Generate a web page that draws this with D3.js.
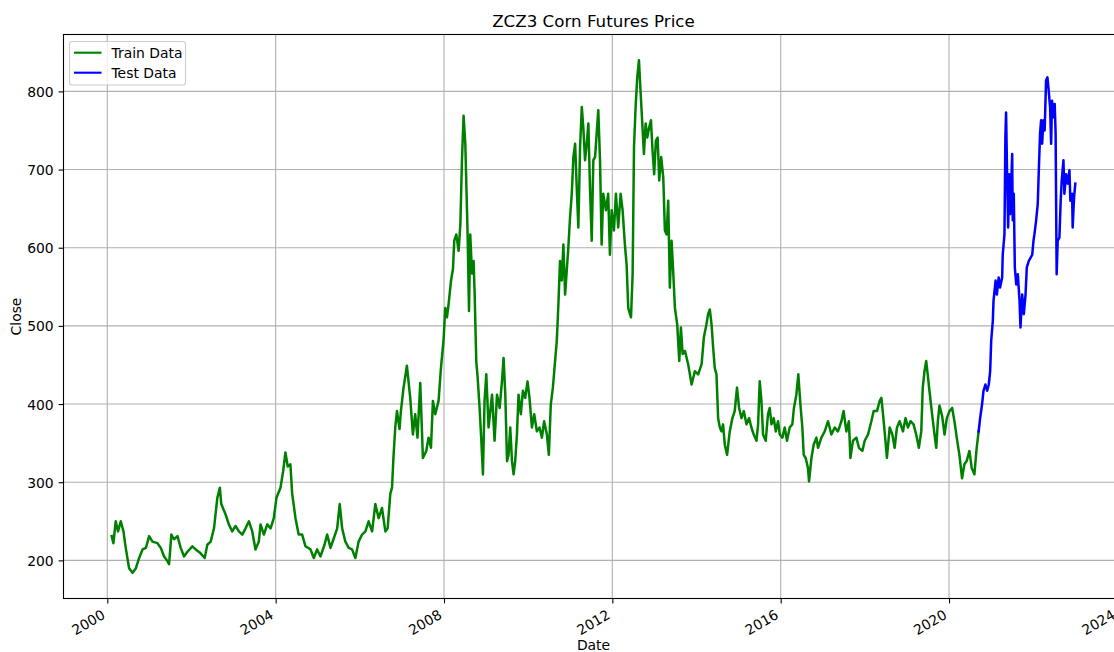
<!DOCTYPE html>
<html>
<head>
<meta charset="utf-8">
<script src="https://cdn.jsdelivr.net/npm/d3@7"></script>
<style>
  html, body { margin: 0; padding: 0; background: #ffffff; }
  svg { display: block; }
  text { font-family: "DejaVu Sans", sans-serif; fill: #000000; }
</style>
</head>
<body>
<svg id="chart" width="1114" height="652"></svg>
<script>
// ZCZ3 corn futures closing prices (cents/bushel), split into train and test periods
const trainDates = [
  "2000-02-08","2000-02-23","2000-03-14","2000-04-03","2000-04-27","2000-05-20","2000-06-09","2000-07-08",
  "2000-08-07","2000-09-05","2000-10-03","2000-11-02","2000-12-01","2000-12-29","2001-01-27","2001-03-11",
  "2001-04-09","2001-05-08","2001-06-06","2001-06-20","2001-07-10","2001-08-02","2001-09-01","2001-09-29",
  "2001-10-28","2001-11-26","2002-01-08","2002-02-06","2002-03-21","2002-04-25","2002-05-18","2002-06-16",
  "2002-07-15","2002-08-13","2002-09-04","2002-09-16","2002-10-23","2002-11-21","2002-12-20","2003-01-18",
  "2003-02-16","2003-03-17","2003-04-15","2003-05-14","2003-06-12","2003-07-10","2003-08-08","2003-08-23",
  "2003-09-21","2003-10-20","2003-11-18","2003-12-16","2004-01-08","2004-02-12","2004-03-06","2004-03-26",
  "2004-04-15","2004-05-08","2004-05-23","2004-06-21","2004-07-19","2004-08-18","2004-09-16","2004-10-29",
  "2004-11-27","2004-12-26","2005-01-24","2005-02-28","2005-03-23","2005-04-21","2005-05-19","2005-06-18",
  "2005-07-10","2005-07-31","2005-08-28","2005-09-26","2005-10-25","2005-11-23","2005-12-21","2006-01-20",
  "2006-02-18","2006-03-18","2006-04-17","2006-05-15","2006-06-13","2006-07-12","2006-08-10","2006-08-30",
  "2006-09-22","2006-10-07","2006-10-19","2006-11-04","2006-11-19","2006-12-11","2006-12-23","2007-01-15",
  "2007-02-13","2007-03-14","2007-04-06","2007-04-26","2007-05-16","2007-06-09","2007-07-02","2007-07-31",
  "2007-08-20","2007-09-10","2007-09-27","2007-10-17","2007-11-15","2007-12-06","2007-12-28","2008-01-12",
  "2008-01-27","2008-02-10","2008-03-02","2008-03-19","2008-03-30","2008-04-17","2008-05-07","2008-05-22",
  "2008-06-05","2008-06-19","2008-07-04","2008-07-12","2008-07-24","2008-08-05","2008-08-16","2008-08-31",
  "2008-09-14","2008-09-23","2008-10-07","2008-10-19","2008-11-05","2008-11-20","2008-12-04","2008-12-18",
  "2009-01-02","2009-01-22","2009-02-21","2009-03-15","2009-04-05","2009-04-28","2009-05-18","2009-06-01",
  "2009-06-16","2009-07-01","2009-07-14","2009-07-29","2009-08-13","2009-08-27","2009-09-10","2009-09-25",
  "2009-10-09","2009-10-29","2009-11-16","2009-12-06","2009-12-26","2010-01-12","2010-02-02","2010-02-22",
  "2010-03-17","2010-04-09","2010-04-30","2010-05-19","2010-06-12","2010-06-29","2010-07-16","2010-08-03",
  "2010-08-22","2010-09-06","2010-09-20","2010-10-04","2010-10-19","2010-11-02","2010-11-17","2010-12-01",
  "2010-12-15","2010-12-30","2011-01-14","2011-01-28","2011-02-12","2011-02-26","2011-03-12","2011-03-27",
  "2011-04-11","2011-04-24","2011-05-09","2011-05-24","2011-06-07","2011-06-21","2011-07-06","2011-07-20",
  "2011-08-04","2011-08-18","2011-09-01","2011-09-16","2011-09-30","2011-10-14","2011-11-07","2011-11-26",
  "2011-12-11","2011-12-26","2012-01-15","2012-02-01","2012-02-21","2012-03-13","2012-03-30","2012-04-19",
  "2012-05-04","2012-05-18","2012-06-02","2012-06-11","2012-06-25","2012-07-07","2012-07-21","2012-08-04",
  "2012-08-19","2012-09-03","2012-09-17","2012-10-01","2012-10-16","2012-10-30","2012-11-16","2012-12-01",
  "2012-12-15","2012-12-29","2013-01-13","2013-01-28","2013-02-11","2013-02-28","2013-03-18","2013-04-01",
  "2013-04-16","2013-04-30","2013-05-14","2013-05-29","2013-06-12","2013-06-27","2013-07-17","2013-08-04",
  "2013-08-18","2013-09-02","2013-09-22","2013-10-20","2013-11-19","2013-12-17","2014-01-15","2014-02-14",
  "2014-03-05","2014-03-28","2014-04-11","2014-04-26","2014-05-11","2014-05-25","2014-06-08","2014-06-23",
  "2014-07-07","2014-07-22","2014-08-05","2014-08-19","2014-09-03","2014-09-23","2014-10-16","2014-11-08",
  "2014-11-28","2014-12-18","2015-01-05","2015-01-26","2015-02-15","2015-03-10","2015-04-02","2015-04-22",
  "2015-05-12","2015-06-05","2015-06-19","2015-07-03","2015-07-18","2015-08-01","2015-08-24","2015-09-13",
  "2015-09-28","2015-10-13","2015-11-02","2015-11-19","2015-12-09","2015-12-24","2016-01-16","2016-02-05",
  "2016-02-25","2016-03-19","2016-04-11","2016-04-25","2016-05-16","2016-06-02","2016-06-20","2016-07-07",
  "2016-07-19","2016-08-05","2016-08-25","2016-09-03","2016-09-24","2016-10-13","2016-11-06","2016-11-20",
  "2016-12-19","2017-01-17","2017-02-15","2017-03-16","2017-04-14","2017-05-12","2017-06-11","2017-06-30",
  "2017-07-24","2017-08-15","2017-08-28","2017-09-19","2017-10-19","2017-11-10","2017-12-10","2017-12-30",
  "2018-01-28","2018-02-26","2018-03-18","2018-04-16","2018-05-09","2018-05-24","2018-06-07","2018-06-21",
  "2018-07-11","2018-08-04","2018-08-27","2018-09-16","2018-10-06","2018-10-29","2018-11-27","2018-12-20",
  "2019-01-09","2019-02-01","2019-02-27","2019-03-22","2019-04-14","2019-05-05","2019-05-18","2019-06-02",
  "2019-06-17","2019-06-30","2019-07-15","2019-08-07","2019-08-28","2019-09-12","2019-09-26","2019-10-10",
  "2019-11-03","2019-11-23","2019-12-13","2020-01-05","2020-01-28","2020-02-17","2020-03-08","2020-03-31",
  "2020-04-23","2020-05-13","2020-06-02","2020-06-26","2020-07-16","2020-08-08","2020-08-28","2020-09-14"
];
const trainClose = [
  231,222,250,237,250,237,216,190,
  184,190,203,214,216,231,224,222,
  216,205,199,195,233,227,231,216,
  205,211,218,214,209,203,220,224,
  241,280,293,272,259,246,237,244,
  237,233,241,250,237,214,224,246,
  233,246,241,254,280,293,314,338,
  320,323,286,254,233,233,218,214,
  203,214,205,220,233,216,228,241,
  272,241,224,216,214,203,224,233,
  237,250,237,272,254,267,237,241,
  285,293,331,370,391,368,391,421,
  449,408,361,387,357,427,331,340,
  357,344,404,387,404,447,481,523,
  511,528,558,573,609,617,596,630,
  712,769,733,686,617,519,617,567,
  583,541,455,434,395,353,310,404,
  438,370,412,353,412,395,429,459,
  412,327,335,370,327,310,327,361,
  412,387,417,408,429,408,370,387,
  365,370,357,378,361,335,400,421,
  455,481,528,583,558,604,540,570,
  600,639,669,716,733,677,626,729,
  780,754,712,733,759,677,609,712,
  716,746,776,712,604,669,648,669,
  591,648,622,669,626,669,648,604,
  578,523,515,511,566,729,780,818,
  840,797,759,720,759,741,754,763,
  724,694,737,741,686,716,690,622,
  617,660,549,609,570,523,502,455,
  498,464,468,451,425,442,438,451,
  485,502,515,521,502,472,446,438,
  382,370,365,374,348,335,365,382,
  391,421,395,382,391,374,382,370,
  361,353,374,429,404,361,353,387,
  395,374,382,365,378,361,357,370,
  353,370,374,395,412,438,400,370,
  335,331,318,301,331,348,357,344,
  357,365,378,361,370,365,378,391,
  365,378,331,353,357,344,340,353,
  361,378,391,391,404,408,387,365,
  331,370,361,344,370,378,365,382,
  370,378,374,361,344,365,421,442,
  455,438,417,387,361,344,378,398,
  384,361,382,391,395,378,357,335,
  305,323,327,340,318,310,344,365
];
const testDates = [
  "2020-09-14","2020-09-27","2020-10-14","2020-10-26","2020-11-12","2020-11-27","2020-12-11","2020-12-23",
  "2021-01-01","2021-01-15","2021-01-21","2021-02-08","2021-02-19","2021-03-07","2021-03-19","2021-04-06",
  "2021-04-11","2021-04-26","2021-05-04","2021-05-10","2021-05-19","2021-05-28","2021-06-06","2021-06-14",
  "2021-06-23","2021-07-02","2021-07-07","2021-07-16","2021-07-25","2021-08-06","2021-08-20","2021-09-04",
  "2021-09-12","2021-09-27","2021-10-11","2021-10-26","2021-11-06","2021-11-23","2021-12-08","2021-12-23",
  "2022-01-03","2022-01-11","2022-01-26","2022-02-09","2022-02-17","2022-03-01","2022-03-10","2022-03-19",
  "2022-03-30","2022-04-10","2022-04-22","2022-05-04","2022-05-15","2022-05-27","2022-06-05","2022-06-13",
  "2022-06-25","2022-07-06","2022-07-14","2022-07-23","2022-08-01","2022-08-16","2022-08-27","2022-09-05",
  "2022-09-20","2022-09-28","2022-10-13","2022-10-27","2022-11-11","2022-11-19","2022-12-04","2022-12-09",
  "2022-12-21","2023-01-01"
];
const testClose = [
  365,382,400,417,425,417,425,442,
  481,506,532,558,540,562,549,562,
  591,617,741,773,694,626,694,643,
  677,720,635,669,575,553,566,532,
  498,540,515,540,575,583,587,591,
  609,617,635,656,694,746,763,733,
  763,750,814,818,801,780,733,788,
  767,784,746,566,609,613,660,686,
  712,669,694,682,699,660,669,626,
  664,682
];
const yTicks = [200, 300, 400, 500, 600, 700, 800];
const xTickYears = [2000, 2004, 2008, 2012, 2016, 2020, 2024];

const parse = d3.utcParse("%Y-%m-%d");
const train = trainDates.map((d, i) => ({ date: parse(d), close: trainClose[i] }));
const test = testDates.map((d, i) => ({ date: parse(d), close: testClose[i] }));
const all = train.concat(test);

const svg = d3.select("#chart");
const plot = { left: 63.5, top: 34.5, right: 1123.5, bottom: 598.5 };

// 5% padding on both axes, like matplotlib's default autoscale margins
const [tMin, tMax] = d3.extent(all, d => +d.date);
const tPad = (tMax - tMin) * 0.05;
const x = d3.scaleUtc()
  .domain([new Date(tMin - tPad), new Date(tMax + tPad)])
  .range([plot.left, plot.right]);

const [vMin, vMax] = d3.extent(all, d => d.close);
const vPad = (vMax - vMin) * 0.05;
const y = d3.scaleLinear()
  .domain([vMin - vPad, vMax + vPad])
  .range([plot.bottom, plot.top]);

const xTicks = xTickYears.map(yr => new Date(Date.UTC(yr, 0, 1)));

// grid
const grid = svg.append("g");
grid.selectAll("line.gx").data(xTicks).join("line")
  .attr("x1", d => x(d)).attr("x2", d => x(d))
  .attr("y1", plot.top).attr("y2", plot.bottom)
  .attr("stroke", "#b0b0b0").attr("stroke-width", 1.1);
grid.selectAll("line.gy").data(yTicks).join("line")
  .attr("x1", plot.left).attr("x2", plot.right)
  .attr("y1", d => y(d)).attr("y2", d => y(d))
  .attr("stroke", "#b0b0b0").attr("stroke-width", 1.1);

// price lines
const line = d3.line().x(d => x(d.date)).y(d => y(d.close));
svg.append("path").datum(train)
  .attr("d", line).attr("fill", "none")
  .attr("stroke", "#008000").attr("stroke-width", 2.5)
  .attr("stroke-linejoin", "round").attr("stroke-linecap", "square");
svg.append("path").datum(test)
  .attr("d", line).attr("fill", "none")
  .attr("stroke", "#0000ff").attr("stroke-width", 2.5)
  .attr("stroke-linejoin", "round").attr("stroke-linecap", "square");

// frame
svg.append("rect")
  .attr("x", plot.left).attr("y", plot.top)
  .attr("width", plot.right - plot.left).attr("height", plot.bottom - plot.top)
  .attr("fill", "none").attr("stroke", "#000").attr("stroke-width", 1.1);

// x axis
const xAxis = svg.append("g")
  .attr("transform", `translate(0,${plot.bottom})`)
  .call(d3.axisBottom(x).tickValues(xTicks).tickFormat(d3.utcFormat("%Y"))
    .tickSize(4.9).tickSizeOuter(0));
xAxis.select(".domain").remove();
xAxis.selectAll(".tick line").attr("stroke", "#000").attr("stroke-width", 1.1);
xAxis.selectAll(".tick text")
  .attr("font-size", "13.9px").attr("font-family", "DejaVu Sans")
  .attr("text-anchor", "end")
  .attr("y", 0).attr("dy", null)
  .attr("transform", "translate(-1.7,19.2) rotate(-30)");

// y axis
const yAxis = svg.append("g")
  .attr("transform", `translate(${plot.left},0)`)
  .call(d3.axisLeft(y).tickValues(yTicks).tickSize(4.9).tickSizeOuter(0));
yAxis.select(".domain").remove();
yAxis.selectAll(".tick line").attr("stroke", "#000").attr("stroke-width", 1.1);
yAxis.selectAll(".tick text")
  .attr("font-size", "13.9px").attr("font-family", "DejaVu Sans")
  .attr("x", -9.8).attr("dy", "0.36em");

// title and axis labels
svg.append("text")
  .attr("x", (plot.left + plot.right) / 2).attr("y", 26.5)
  .attr("text-anchor", "middle").attr("font-size", "16.7px")
  .text("ZCZ3 Corn Futures Price");
svg.append("text")
  .attr("x", (plot.left + plot.right) / 2).attr("y", 650)
  .attr("text-anchor", "middle").attr("font-size", "13.9px")
  .text("Date");
svg.append("text")
  .attr("transform", `translate(20.5,${(plot.top + plot.bottom) / 2}) rotate(-90)`)
  .attr("text-anchor", "middle").attr("font-size", "13.9px")
  .text("Close");

// legend
const legend = svg.append("g");
legend.append("rect")
  .attr("x", 69.5).attr("y", 41.5).attr("width", 116).attr("height", 43.5)
  .attr("rx", 2.8).attr("fill", "#ffffff").attr("fill-opacity", 0.8)
  .attr("stroke", "#cccccc").attr("stroke-width", 1.1);
const items = [
  { label: "Train Data", color: "#008000" },
  { label: "Test Data", color: "#0000ff" }
];
items.forEach((it, i) => {
  const ly = 52.7 + i * 20;
  legend.append("line")
    .attr("x1", 74).attr("x2", 101.5).attr("y1", ly).attr("y2", ly)
    .attr("stroke", it.color).attr("stroke-width", 2.1);
  legend.append("text")
    .attr("x", 111.5).attr("y", ly + 5).attr("font-size", "13.9px")
    .text(it.label);
});
</script>
</body>
</html>
